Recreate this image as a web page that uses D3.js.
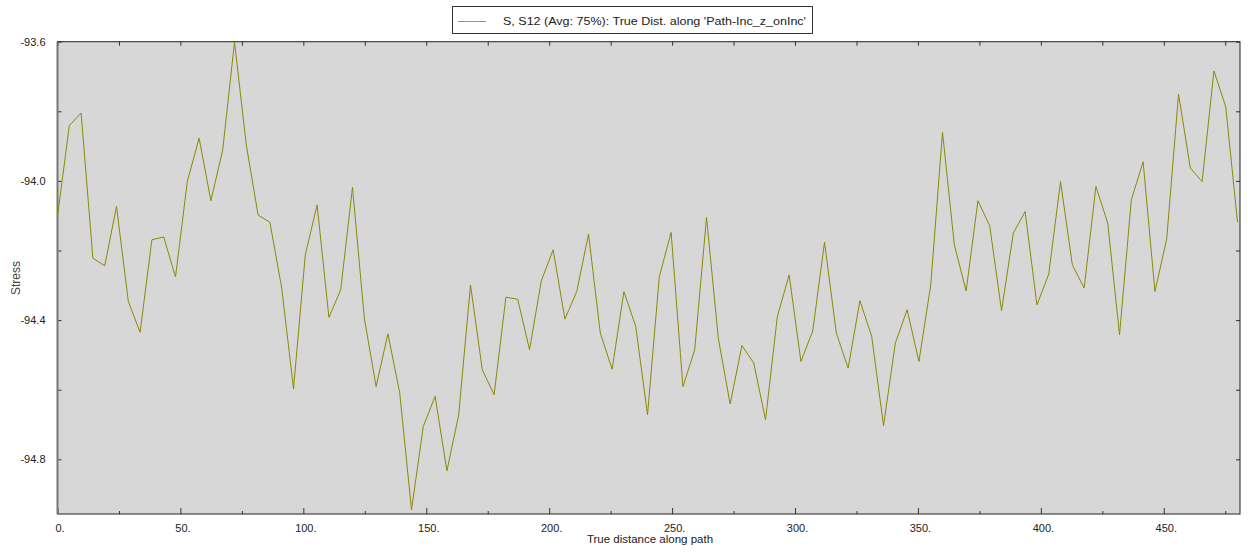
<!DOCTYPE html>
<html>
<head>
<meta charset="utf-8">
<script src="https://cdn.jsdelivr.net/npm/d3@7"></script>
<style>
  body { margin: 0; background: #fff; }
  svg { display: block; font-family: "Liberation Sans", Arial, sans-serif; }
  .axis text { fill: #222; font-size: 11px; }
  .axis path { display: none; }
  .axis line { stroke: #333; }
</style>
</head>
<body>
<svg id="chart" width="1248" height="554"></svg>
<script>
// sample positions along the path
const distance = [
  0, 4.8, 9.6, 14.4, 19.2, 24, 28.8, 33.6, 38.4, 43.2,
  48, 52.8, 57.6, 62.4, 67.2, 72, 76.8, 81.6, 86.4, 91.2,
  96, 100.8, 105.6, 110.4, 115.2, 120, 124.8, 129.6, 134.4, 139.2,
  144, 148.8, 153.6, 158.4, 163.2, 168, 172.8, 177.6, 182.4, 187.2,
  192, 196.8, 201.6, 206.4, 211.2, 216, 220.8, 225.6, 230.4, 235.2,
  240, 244.8, 249.6, 254.4, 259.2, 264, 268.8, 273.6, 278.4, 283.2,
  288, 292.8, 297.6, 302.4, 307.2, 312, 316.8, 321.6, 326.4, 331.2,
  336, 340.8, 345.6, 350.4, 355.2, 360, 364.8, 369.6, 374.4, 379.2,
  384, 388.8, 393.6, 398.4, 403.2, 408, 412.8, 417.6, 422.4, 427.2,
  432, 436.8, 441.6, 446.4, 451.2, 456, 460.8, 465.6, 470.4, 475.2,
  480
];

// S, S12 stress values
const stress = [
  -94.102, -93.841, -93.805, -94.222, -94.244, -94.073, -94.346, -94.435, -94.169, -94.161,
  -94.276, -94.002, -93.877, -94.057, -93.911, -93.601, -93.897, -94.098, -94.119, -94.308,
  -94.597, -94.212, -94.069, -94.392, -94.313, -94.018, -94.394, -94.591, -94.439, -94.609,
  -94.945, -94.705, -94.619, -94.833, -94.672, -94.299, -94.543, -94.614, -94.334, -94.340,
  -94.485, -94.287, -94.198, -94.397, -94.318, -94.153, -94.437, -94.541, -94.318, -94.418,
  -94.672, -94.275, -94.148, -94.591, -94.485, -94.105, -94.452, -94.641, -94.473, -94.523,
  -94.686, -94.390, -94.270, -94.519, -94.431, -94.176, -94.437, -94.538, -94.344, -94.447,
  -94.703, -94.466, -94.370, -94.519, -94.299, -93.860, -94.184, -94.316, -94.057, -94.129,
  -94.373, -94.150, -94.088, -94.356, -94.268, -94.002, -94.241, -94.308, -94.016, -94.121,
  -94.442, -94.054, -93.945, -94.318, -94.166, -93.751, -93.963, -94.002, -93.684, -93.787,
  -94.119
];

const xMajor = [0, 50, 100, 150, 200, 250, 300, 350, 400, 450];
const xMinor = [25, 75, 125, 175, 225, 275, 325, 375, 425, 475];
const yMajor = [-93.6, -94.0, -94.4, -94.8];
const yMinor = [-93.8, -94.2, -94.6];

const legendLabel = "S, S12 (Avg: 75%): True Dist. along 'Path-Inc_z_onInc'";
const xTitle = "True distance along path";
const yTitle = "Stress";

const plot = { left: 57.5, right: 1240, top: 41.7, bottom: 514 };

const svg = d3.select("#chart");

const x = d3.scaleLinear().domain([0, 481]).range([plot.left, plot.right]);
const y = d3.scaleLinear().domain([-94.957, -93.6]).range([plot.bottom, plot.top]);

// plot background
svg.append("rect")
  .attr("x", plot.left).attr("y", plot.top)
  .attr("width", plot.right - plot.left)
  .attr("height", plot.bottom - plot.top)
  .attr("fill", "#d7d7d7");

// ticks, all pointing inward
function drawAxis(axisFn, ticks, size, transform, fmt) {
  const a = axisFn.tickValues(ticks).tickSizeInner(-size).tickSizeOuter(0).tickPadding(size + 6);
  a.tickFormat(fmt || (() => ""));
  return svg.append("g").attr("class", "axis").attr("transform", transform).call(a);
}

const yFmt = d => d3.format(".1f")(d).replace("\u2212", "-");

drawAxis(d3.axisBottom(x), xMajor, 6, `translate(0,${plot.bottom})`, d => d + ".")
  .selectAll("text").attr("dx", 2).attr("dy", "0.5em");
drawAxis(d3.axisBottom(x), xMinor, 3, `translate(0,${plot.bottom})`);
drawAxis(d3.axisTop(x), xMajor, 4, `translate(0,${plot.top})`);
drawAxis(d3.axisTop(x), xMinor, 4, `translate(0,${plot.top})`);

drawAxis(d3.axisLeft(y), yMajor, 4, `translate(${plot.left},0)`, yFmt)
  .selectAll("text").attr("x", -12);
drawAxis(d3.axisLeft(y), yMinor, 4, `translate(${plot.left},0)`);
drawAxis(d3.axisRight(y), yMajor.concat(yMinor), 4, `translate(${plot.right},0)`);

// frame
svg.append("rect")
  .attr("x", plot.left).attr("y", plot.top)
  .attr("width", plot.right - plot.left)
  .attr("height", plot.bottom - plot.top)
  .attr("fill", "none")
  .attr("stroke", "#222")
  .attr("stroke-width", 1);
svg.append("line")
  .attr("x1", plot.left).attr("x2", plot.left)
  .attr("y1", plot.top).attr("y2", plot.bottom)
  .attr("stroke", "#777").attr("stroke-width", 2);

// the series line
const pts = distance.map((d, i) => [d, stress[i]]);
svg.append("path")
  .datum(pts)
  .attr("fill", "none")
  .attr("stroke", "#8a8a05")
  .attr("stroke-width", 1)
  .attr("d", d3.line().x(d => x(d[0])).y(d => y(d[1])));

// axis titles
svg.append("text")
  .attr("x", 650).attr("y", 543)
  .attr("text-anchor", "middle")
  .attr("font-size", 11.5).attr("fill", "#222")
  .text(xTitle);
svg.append("text")
  .attr("transform", "translate(20,278) rotate(-90)")
  .attr("text-anchor", "middle")
  .attr("font-size", 12).attr("fill", "#444")
  .text(yTitle);

// legend
const lg = svg.append("g");
lg.append("rect")
  .attr("x", 452.5).attr("y", 6.5).attr("width", 360).attr("height", 27)
  .attr("fill", "#fff").attr("stroke", "#333");
lg.append("line")
  .attr("x1", 458).attr("x2", 486).attr("y1", 21.5).attr("y2", 21.5)
  .attr("stroke", "#a4a43a").attr("stroke-width", 1);
lg.append("text")
  .attr("x", 503).attr("y", 25)
  .attr("font-size", 11.5).attr("fill", "#222")
  .attr("textLength", 303).attr("lengthAdjust", "spacingAndGlyphs")
  .text(legendLabel);
</script>
</body>
</html>
